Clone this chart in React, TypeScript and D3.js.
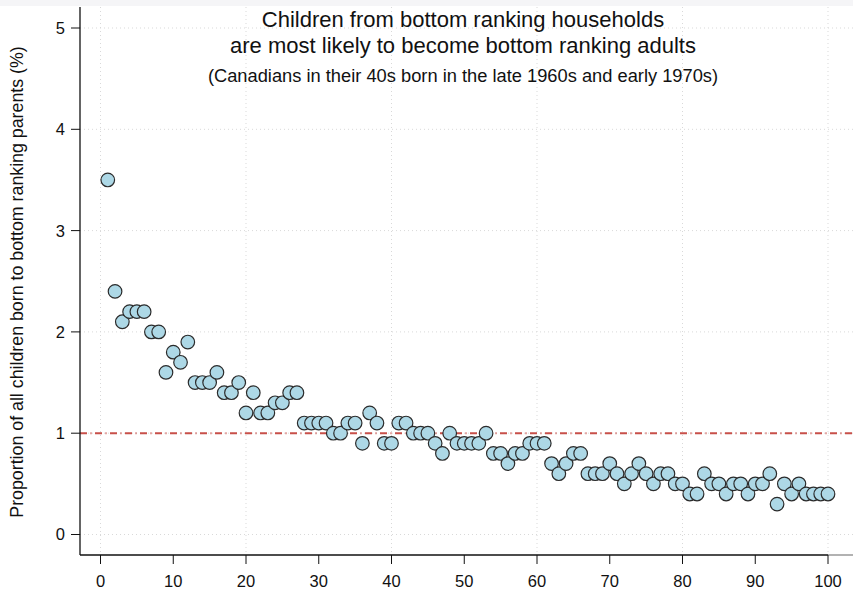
import * as d3 from "d3";
import { useRef, useEffect } from "react";

// percentile of parents' income rank (x) and share of children at the bottom (y, %)
const ranks = d3.range(1, 101);
const shares = [
  3.5, 2.4, 2.1, 2.2, 2.2, 2.2, 2.0, 2.0, 1.6, 1.8,
  1.7, 1.9, 1.5, 1.5, 1.5, 1.6, 1.4, 1.4, 1.5, 1.2,
  1.4, 1.2, 1.2, 1.3, 1.3, 1.4, 1.4, 1.1, 1.1, 1.1,
  1.1, 1.0, 1.0, 1.1, 1.1, 0.9, 1.2, 1.1, 0.9, 0.9,
  1.1, 1.1, 1.0, 1.0, 1.0, 0.9, 0.8, 1.0, 0.9, 0.9,
  0.9, 0.9, 1.0, 0.8, 0.8, 0.7, 0.8, 0.8, 0.9, 0.9,
  0.9, 0.7, 0.6, 0.7, 0.8, 0.8, 0.6, 0.6, 0.6, 0.7,
  0.6, 0.5, 0.6, 0.7, 0.6, 0.5, 0.6, 0.6, 0.5, 0.5,
  0.4, 0.4, 0.6, 0.5, 0.5, 0.4, 0.5, 0.5, 0.4, 0.5,
  0.5, 0.6, 0.3, 0.5, 0.4, 0.5, 0.4, 0.4, 0.4, 0.4,
];
const xTicks = [0, 10, 20, 30, 40, 50, 60, 70, 80, 90, 100];
const xGrid = [0, 20, 40, 60, 80, 100];
const yTicks = [0, 1, 2, 3, 4, 5];
const refLine = 1;

const titleLines = [
  "Children from bottom ranking households",
  "are most likely to become bottom ranking adults",
];
const subtitle = "(Canadians in their 40s born in the late 1960s and early 1970s)";
const yLabel = "Proportion of all children born to bottom ranking parents (%)";

export default function App() {
  const svgRef = useRef(null);
  const width = 853;
  const height = 590;

  useEffect(() => {
    const svg = d3.select(svgRef.current);
    svg.selectAll("*").remove();

    const x = d3.scaleLinear().domain([0, 100]).range([100.5, 828]);
    const y = d3.scaleLinear().domain([0, 5]).range([534.5, 28]);
    const axisX = 80;
    const axisY = 555;
    const top = 7;
    const font = "'Liberation Sans', Arial, sans-serif";

    svg.append("rect").attr("width", width).attr("height", height).attr("fill", "#fff");
    svg.append("rect").attr("width", width).attr("height", 6).attr("fill", "#f5f5f7");

    // grid
    const grid = svg.append("g")
      .attr("stroke", "#d9d9d9")
      .attr("stroke-width", 1)
      .attr("stroke-dasharray", "1,3");
    grid.selectAll(".h").data(yTicks).join("line")
      .attr("x1", axisX).attr("x2", width)
      .attr("y1", d => y(d)).attr("y2", d => y(d));
    grid.selectAll(".v").data(xGrid).join("line")
      .attr("y1", top).attr("y2", axisY)
      .attr("x1", d => x(d)).attr("x2", d => x(d));

    // reference line
    svg.append("line")
      .attr("x1", axisX).attr("x2", width)
      .attr("y1", y(refLine)).attr("y2", y(refLine))
      .attr("stroke", "#c8504a")
      .attr("stroke-width", 2)
      .attr("stroke-dasharray", "7,3.5,1,3.5");

    // points
    svg.append("g")
      .selectAll("circle")
      .data(ranks)
      .join("circle")
        .attr("cx", d => x(d))
        .attr("cy", (d, i) => y(shares[i]))
        .attr("r", 6.8)
        .attr("fill", "#add8e6")
        .attr("stroke", "#2b2b2b")
        .attr("stroke-width", 1.2);

    // axes
    svg.append("line")
      .attr("x1", axisX).attr("x2", axisX)
      .attr("y1", top).attr("y2", axisY)
      .attr("stroke", "#111").attr("stroke-width", 1.3);
    svg.append("line")
      .attr("x1", axisX).attr("x2", x(100))
      .attr("y1", axisY).attr("y2", axisY)
      .attr("stroke", "#111").attr("stroke-width", 1.3);
    svg.append("line")
      .attr("x1", x(100)).attr("x2", width)
      .attr("y1", axisY).attr("y2", axisY)
      .attr("stroke", "#888").attr("stroke-width", 1.3);

    const yt = svg.append("g");
    yt.selectAll("line").data(yTicks).join("line")
      .attr("x1", axisX - 9).attr("x2", axisX)
      .attr("y1", d => y(d)).attr("y2", d => y(d))
      .attr("stroke", "#111");
    yt.selectAll("text").data(yTicks).join("text")
      .attr("x", axisX - 15)
      .attr("y", d => y(d))
      .attr("dy", "0.36em")
      .attr("text-anchor", "end")
      .attr("font-family", font)
      .attr("font-size", 16.5)
      .attr("fill", "#111")
      .text(d => d);

    const xt = svg.append("g");
    xt.selectAll("line").data(xTicks).join("line")
      .attr("x1", d => x(d)).attr("x2", d => x(d))
      .attr("y1", axisY).attr("y2", axisY + 9)
      .attr("stroke", "#111");
    xt.selectAll("text").data(xTicks).join("text")
      .attr("x", d => x(d))
      .attr("y", 587)
      .attr("text-anchor", "middle")
      .attr("font-family", font)
      .attr("font-size", 16.5)
      .attr("fill", "#111")
      .text(d => d);

    // titles
    const cx = 463;
    svg.selectAll(".title").data(titleLines).join("text")
      .attr("x", cx)
      .attr("y", (d, i) => 27 + i * 26)
      .attr("text-anchor", "middle")
      .attr("font-family", font)
      .attr("font-size", 22)
      .attr("fill", "#111")
      .text(d => d);
    svg.append("text")
      .attr("x", cx).attr("y", 82)
      .attr("text-anchor", "middle")
      .attr("font-family", font)
      .attr("font-size", 18.3)
      .attr("fill", "#111")
      .text(subtitle);

    svg.append("text")
      .attr("transform", `translate(23,${282}) rotate(-90)`)
      .attr("text-anchor", "middle")
      .attr("font-family", font)
      .attr("font-size", 17.8)
      .attr("fill", "#111")
      .text(yLabel);
  }, []);

  return (
    <svg
      ref={svgRef}
      width={width}
      height={height}
      style={{ position: "absolute", left: 0, top: 0, display: "block" }}
    />
  );
}
